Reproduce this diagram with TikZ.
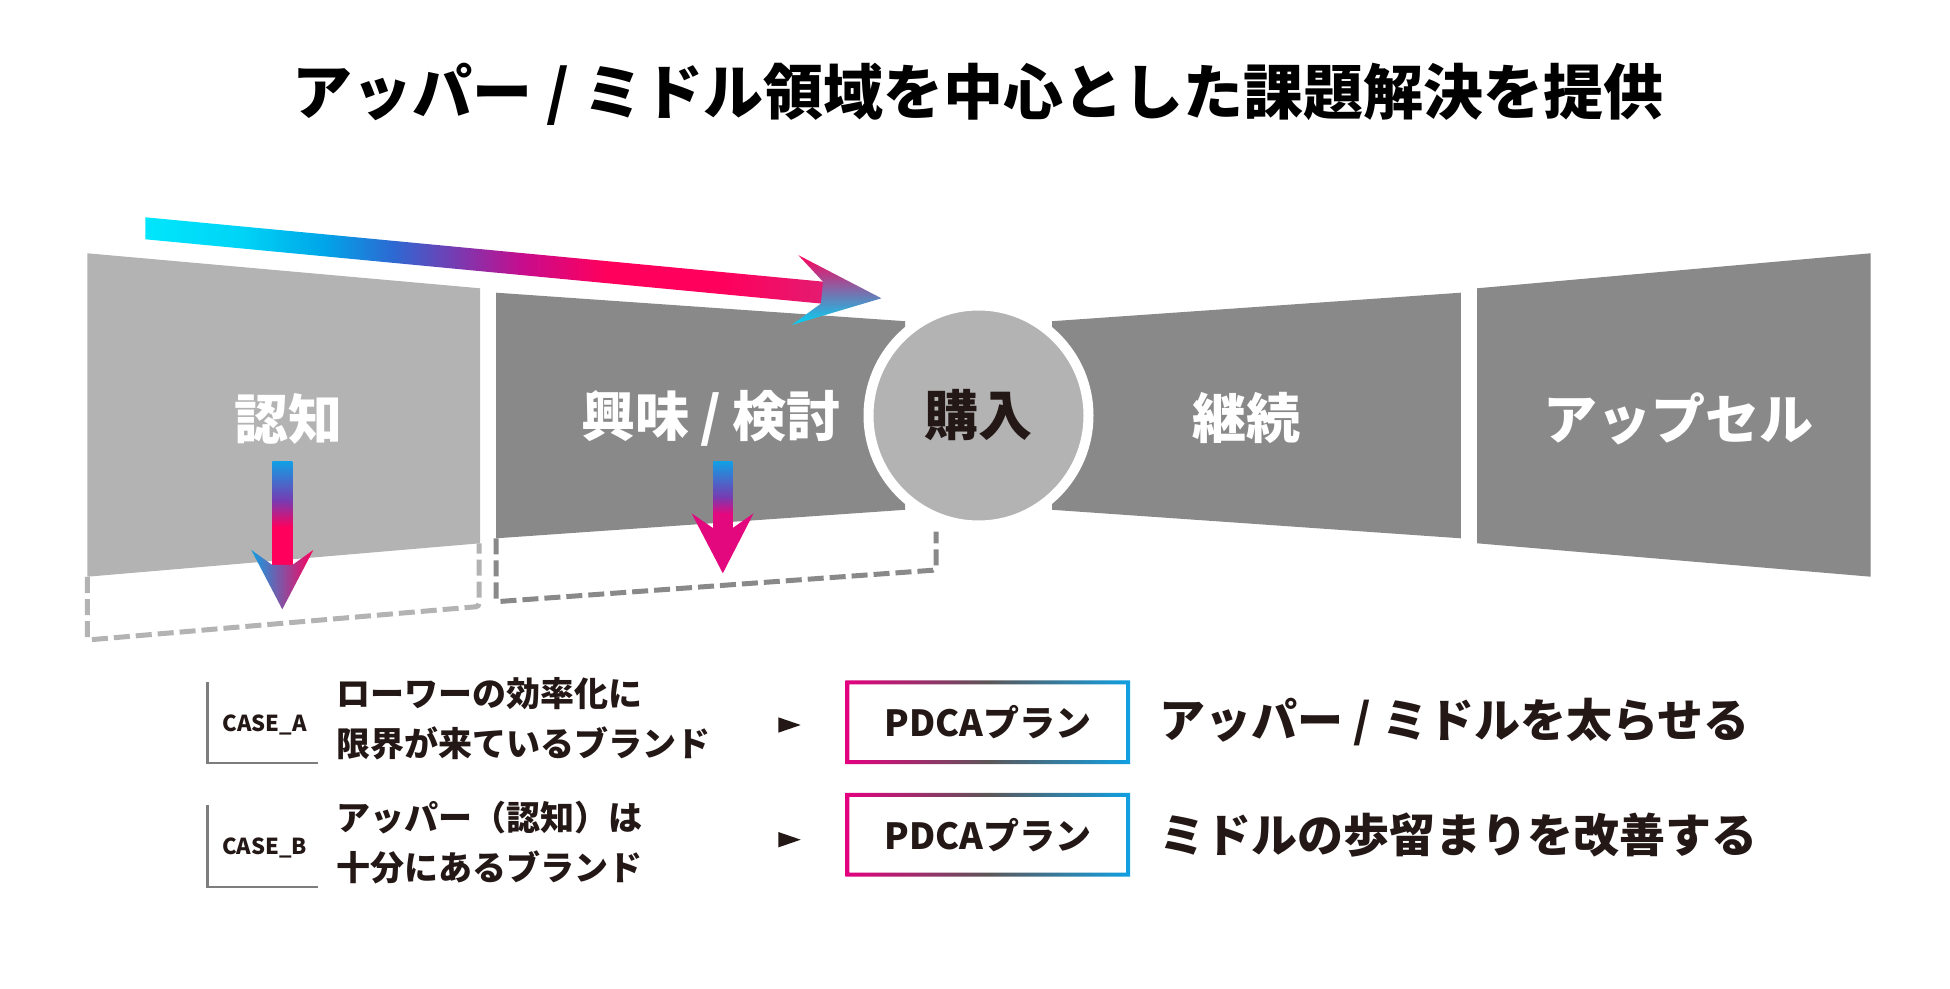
\documentclass[tikz,border=0pt]{standalone}
\usepackage{fontspec}
\usepackage{tikz}
\usetikzlibrary{positioning}
\newfontfamily\jpfont{Noto Sans CJK JP}

\definecolor{inkdark}{RGB}{35,24,21}
\definecolor{stagelight}{RGB}{179,179,179}
\definecolor{stagedark}{RGB}{137,137,137}
\definecolor{caseline}{RGB}{125,125,125}
\definecolor{flowcyan}{RGB}{0,230,252}
\definecolor{flowsky}{RGB}{0,212,246}
\definecolor{flowblue}{RGB}{0,165,232}
\definecolor{flowindigo}{RGB}{45,105,210}
\definecolor{flowviolet}{RGB}{118,60,178}
\definecolor{flowmagenta}{RGB}{200,12,140}
\definecolor{flowred}{RGB}{255,0,92}
\definecolor{flowrose}{RGB}{225,30,115}
\definecolor{dropblue}{RGB}{18,158,228}
\definecolor{dropmagenta}{RGB}{228,8,127}
\definecolor{edgepink}{RGB}{228,0,127}
\definecolor{edgegray}{RGB}{92,86,88}
\definecolor{edgeblue}{RGB}{16,160,226}

\pgfdeclarehorizontalshading{flowshade}{100bp}{color(0bp)=(flowcyan); color(25bp)=(flowcyan); color(32bp)=(flowsky); color(38bp)=(flowblue); color(43bp)=(flowindigo); color(47.5bp)=(flowviolet); color(52.5bp)=(flowmagenta); color(58.5bp)=(flowred); color(67bp)=(flowred); color(75bp)=(flowrose); color(100bp)=(flowrose)}
\pgfdeclareverticalshading{dropashade}{100bp}{color(0bp)=(flowred); color(43.5bp)=(flowred); color(56.5bp)=(flowviolet); color(75bp)=(dropblue); color(100bp)=(dropblue)}
\pgfdeclareverticalshading{dropbshade}{100bp}{color(0bp)=(dropmagenta); color(36.5bp)=(dropmagenta); color(49bp)=(flowviolet); color(75bp)=(dropblue); color(100bp)=(dropblue)}
\pgfdeclarehorizontalshading{edgeshade}{100bp}{color(0bp)=(edgepink); color(25bp)=(edgepink); color(50bp)=(edgegray); color(75bp)=(edgeblue); color(100bp)=(edgeblue)}

\begin{document}
\begin{tikzpicture}[
  x=0.5pt, y=-0.5pt,
  stage/.style={
    text=white,
    inner sep=0pt,
    font=\jpfont\bfseries\fontsize{27pt}{27pt}\selectfont
  },
  extension/.style={line width=2.5pt, dash pattern=on 8pt off 3pt, rounded corners=1.5pt},
  plan/.style={
    minimum width=142pt,
    minimum height=41.5pt,
    inner sep=0pt,
    text=inkdark,
    font=\jpfont\bfseries\fontsize{18pt}{18pt}\selectfont
  },
  planedge/.style={shading=edgeshade, even odd rule},
  result/.style={inner sep=0pt, text=inkdark, font=\jpfont\bfseries\fontsize{23pt}{23pt}\selectfont},
  brand/.style={anchor=west, align=left, inner sep=0pt, text=inkdark, font=\jpfont\bfseries\fontsize{17pt}{25pt}\selectfont},
  casetag/.style={inner sep=0pt, text=inkdark, font=\jpfont\bfseries\fontsize{11pt}{11pt}\selectfont},
  caseframe/.style={draw=caseline, line width=1.2pt},
  marker/.style={fill=inkdark}
]
  \useasboundingbox (0,0) rectangle (1950,989);
  \fill[white] (0,0) rectangle (1950,989);

  \node[inner sep=0pt, text=black, font=\jpfont\bfseries\fontsize{30pt}{30pt}\selectfont] (headline) at (978,94) {アッパー / ミドル領域を中心とした課題解決を提供};

  \fill[stagelight] (87.4,253.3) -- (480,288.3) -- (480,543.3) -- (87.4,576.7) -- cycle;
  \fill[stagedark] (496.2,292.7) -- (905,321.2) -- (905,509.8) -- (496.2,538.3) -- cycle;
  \fill[stagedark] (1052,321.2) -- (1460.8,292.7) -- (1460.8,538.3) -- (1052,509.8) -- cycle;
  \fill[stagedark] (1477,288.3) -- (1870.5,253.3) -- (1870.5,576.7) -- (1477,543.3) -- cycle;
  \draw[extension, draw=stagelight] (87.4,577) -- (87.4,640) -- (479,606.5) -- (479,543.3);
  \draw[extension, draw=stagedark] (496.2,538.5) -- (496.2,601.7) -- (936,570) -- (936,531.7);

  \node[stage] (aware) at (288.5,419) {認知};
  \node[stage] (interest) at (711,418) {興味\hspace{0.2em}/\hspace{0.2em}検討};
  \node[circle, fill=stagelight, draw=white, line width=5pt, minimum size=110pt, inner sep=0pt,
    text=inkdark, font=\jpfont\bfseries\fontsize{27pt}{27pt}\selectfont] (purchase) at (978.5,415.5) {購入};
  \node[stage] (retention) at (1246,418) {継続};
  \node[stage] (upsell) at (1678,419) {アップセル};

  \shade[shading=flowshade] (145.4,217.3) -- (833,282.6) -- (830.9,304.5) -- (145.4,239.3) -- cycle;
  \shade[top color=flowred, middle color=flowviolet, bottom color=flowsky]
    (823,281.7) -- (798.4,255.2) -- (881.4,298.3) -- (791.8,324.9) -- (820.9,303.6) -- cycle;

  \shade[shading=dropashade] (272.3,461.7) rectangle (292.3,566);
  \shade[left color=dropblue, middle color=flowviolet, right color=flowred]
    (251.3,550) -- (272.3,565) -- (292.3,565) -- (313.3,550) -- (282.3,609.3) -- cycle;
  \shade[shading=dropbshade] (713.3,461.7) rectangle (732.3,529.3);
  \fill[dropmagenta] (691.6,513.3) -- (713.3,528.3) -- (732.3,528.3) -- (753.6,513.3) -- (722.8,573.3) -- cycle;

  \node[casetag] (caseA) at (264.5,725) {CASE\_A};
  \node[casetag] (caseB) at (264.5,848) {CASE\_B};
  \draw[caseframe] (207.4,682) -- (207.4,762.7) -- (318.4,762.7);
  \draw[caseframe] (207.4,805) -- (207.4,886.7) -- (318.4,886.7);
  \node[brand] (brandA) at (336,719) {ローワーの効率化に\\限界が来ているブランド};
  \node[brand] (brandB) at (336,842.5) {アッパー（認知）は\\十分にあるブランド};

  \coordinate (markA) at (800.7,725);
  \coordinate (markB) at (800.7,839.7);
  \fill[marker] (markA) -- ++(-22.4,-7.7) -- ++(0,15.4) -- cycle;
  \fill[marker] (markB) -- ++(-22.4,-7.7) -- ++(0,15.4) -- cycle;

  \node[plan] (planA) at (987.7,722.3) {PDCAプラン};
  \node[plan] (planB) at (987.7,834.7) {PDCAプラン};
  \shade[planedge] (planA.north west) rectangle (planA.south east)
    ([shift={(2pt,-2pt)}]planA.north west) rectangle ([shift={(-2pt,2pt)}]planA.south east);
  \shade[planedge] (planB.north west) rectangle (planB.south east)
    ([shift={(2pt,-2pt)}]planB.north west) rectangle ([shift={(-2pt,2pt)}]planB.south east);

  \node[result, right=14.5pt of planA] (resultA) {アッパー / ミドルを太らせる};
  \node[result, right=14.5pt of planB] (resultB) {ミドルの歩留まりを改善する};
\end{tikzpicture}
\end{document}
